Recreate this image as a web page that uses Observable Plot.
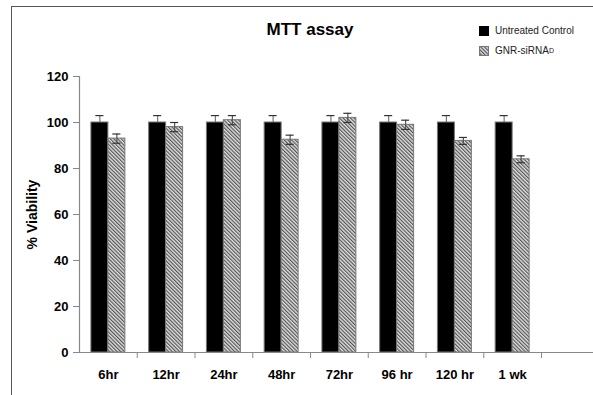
<!DOCTYPE html>
<html>
<head>
<meta charset="utf-8">
<script src="https://cdn.jsdelivr.net/npm/d3@7"></script>
<script src="https://cdn.jsdelivr.net/npm/@observablehq/plot@0.6"></script>
<style>
  html, body { margin: 0; padding: 0; background: #fff; }
  #wrap { position: relative; width: 593px; height: 395px; overflow: hidden; font-family: Arial, "Liberation Sans", sans-serif; }
  #frame { position: absolute; left: 11px; top: 6px; width: 600px; height: 400px; border-left: 1.5px solid #555; border-top: 1.5px solid #555; }
  #title { position: absolute; left: 0; width: 620px; top: 20px; text-align: center; font-weight: bold; font-size: 17px; color: #000; }
  .leg { position: absolute; left: 479px; font-size: 10px; color: #222; display: flex; align-items: center; }
  .sw { width: 10px; height: 10px; margin-right: 6px; box-sizing: border-box; }
  sup { font-size: 7px; vertical-align: 4px; }
  #chart svg { position: absolute; left: 0; top: 0; }
</style>
</head>
<body>
<div id="wrap">
  <div id="frame"></div>
  <div id="chart"></div>
  <div id="title">MTT assay</div>
  <div class="leg" style="top:25px"><div class="sw" style="background:#000"></div>Untreated Control</div>
  <div class="leg" style="top:45px"><svg class="sw" width="10" height="10" style="position:static"><rect x="0.5" y="0.5" width="9" height="9" fill="url(#hatch)" stroke="#777"></rect></svg>GNR-siRNA<sup>D</sup></div>
</div>
<script>
const categories = ["6hr", "12hr", "24hr", "48hr", "72hr", "96 hr", "120 hr", "1 wk"];
const controlValues = [100, 100, 100, 100, 100, 100, 100, 100];
const controlErrors = [3, 3, 3, 3, 3, 3, 3, 3];
const gnrValues = [93, 98, 101, 92.5, 102, 99, 92, 84];
const gnrErrors = [2, 2, 2, 2, 2, 2, 1.5, 1.5];
const yTicks = [0, 20, 40, 60, 80, 100, 120];

const barW = 0.294;
const capW = 0.07;
const rows = categories.map((c, i) => ({
  cat: c, i,
  ctl: controlValues[i], ctlErr: controlErrors[i],
  gnr: gnrValues[i], gnrErr: gnrErrors[i]
}));

const plot = Plot.plot({
  width: 593,
  height: 395,
  marginLeft: 79,
  marginRight: 0,
  marginTop: 76,
  marginBottom: 43,
  style: { fontFamily: "Arial, 'Liberation Sans', sans-serif", background: "transparent" },
  x: { domain: [0, 8.9], axis: null },
  y: { domain: [0, 120], axis: null },
  marks: [
    Plot.rectY(rows, { x1: d => d.i + 0.5 - barW, x2: d => d.i + 0.5, y1: 0, y2: "ctl", fill: "#000", stroke: "#777", strokeWidth: 1 }),
    Plot.rectY(rows, { x1: d => d.i + 0.5, x2: d => d.i + 0.5 + barW, y1: 0, y2: "gnr", fill: "url(#hatch)", stroke: "#777", strokeWidth: 1 }),
    Plot.ruleX(rows, { x: d => d.i + 0.5 - barW / 2, y1: "ctl", y2: d => d.ctl + d.ctlErr, stroke: "#777", strokeWidth: 1.2 }),
    Plot.ruleY(rows, { y: d => d.ctl + d.ctlErr, x1: d => d.i + 0.5 - barW / 2 - capW, x2: d => d.i + 0.5 - barW / 2 + capW, stroke: "#333", strokeWidth: 1.2 }),
    Plot.ruleX(rows, { x: d => d.i + 0.5 + barW / 2, y1: d => d.gnr - d.gnrErr, y2: d => d.gnr + d.gnrErr, stroke: "#555", strokeWidth: 1.2 }),
    Plot.ruleY(rows, { y: d => d.gnr + d.gnrErr, x1: d => d.i + 0.5 + barW / 2 - capW, x2: d => d.i + 0.5 + barW / 2 + capW, stroke: "#333", strokeWidth: 1.2 }),
    Plot.ruleY(rows, { y: d => d.gnr - d.gnrErr, x1: d => d.i + 0.5 + barW / 2 - capW, x2: d => d.i + 0.5 + barW / 2 + capW, stroke: "#333", strokeWidth: 1.2 }),
    Plot.ruleX([0], { y1: 0, y2: 120, stroke: "#888", strokeWidth: 1.2 }),
    Plot.ruleY([0], { x1: 0, x2: 8.9, stroke: "#888", strokeWidth: 1.2 }),
    Plot.axisY(yTicks, { ticks: yTicks, tickSize: 6, tickPadding: 5, stroke: "#888", fontWeight: "bold", fontSize: 13, fill: "#000", color: "#000" }),
    Plot.axisX(d3.range(1, 9), { ticks: d3.range(1, 9), tickSize: 6, tickFormat: () => "", stroke: "#888" }),
    Plot.text(rows, { x: d => d.i + 0.5, y: 0, text: "cat", dy: 22, fontWeight: "bold", fontSize: 13, fill: "#000" }),
    Plot.text(["% Viability"], { x: 0, y: 60, text: d => d, rotate: -90, dx: -47, fontWeight: "bold", fontSize: 14, fill: "#000" })
  ]
});

const ns = "http://www.w3.org/2000/svg";
const defs = document.createElementNS(ns, "defs");
defs.innerHTML = `<pattern id="hatch" width="2.6" height="2.6" patternUnits="userSpaceOnUse" patternTransform="rotate(-45)">
  <rect width="2.6" height="2.6" fill="#e0e0e0"></rect>
  <line x1="0.6" y1="0" x2="0.6" y2="2.6" stroke="#4a4a4a" stroke-width="1.1"></line>
</pattern>`;
plot.insertBefore(defs, plot.firstChild);
document.getElementById("chart").appendChild(plot);
</script>
</body>
</html>
